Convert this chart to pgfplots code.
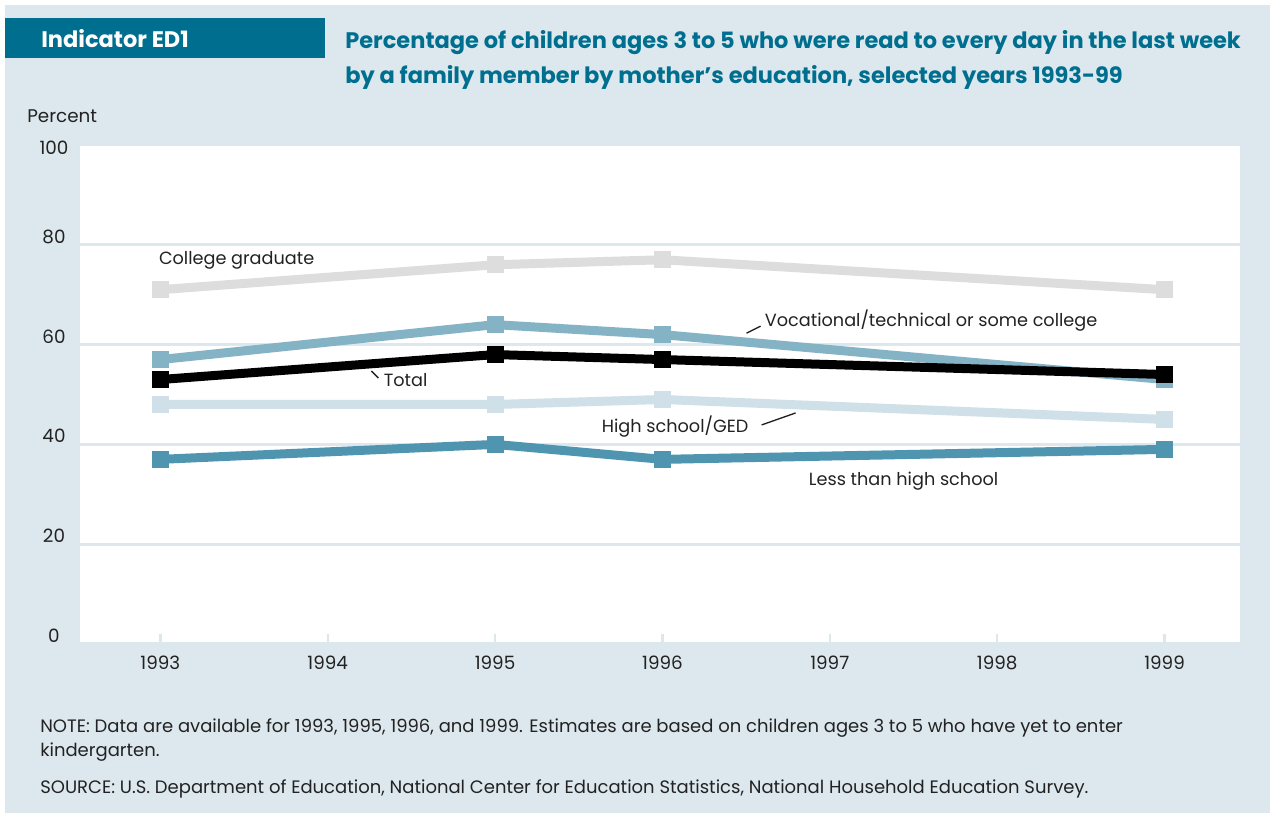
\documentclass[border=0pt]{standalone}
\usepackage{pgfplots}
\pgfplotsset{compat=1.18}
\usepackage{fontspec}
\setmainfont{Poppins}
\definecolor{bgblue}{HTML}{DCE8EE}
\definecolor{teal}{HTML}{006F8F}
\definecolor{colgrad}{HTML}{DDDDDD}
\definecolor{voc}{HTML}{84B3C6}
\definecolor{hsged}{HTML}{CFE0E8}
\definecolor{lths}{HTML}{4F95B0}
\definecolor{txt}{HTML}{222222}
\begin{document}
\begin{tikzpicture}[x=0.6pt,y=0.6pt]
\path[use as bounding box] (0,0) rectangle (1270,813);
\fill[white] (0,0) rectangle (1270,813);
\fill[bgblue] (5,0) rectangle (1270,808);
\fill[teal] (5,755) rectangle (325,795);
\node[anchor=west,text=white,font=\fontsize{13.5}{15}\selectfont\bfseries,inner sep=0pt] at (41,774) {Indicator ED1};
\node[anchor=north west,text=teal,font=\fontsize{13.5}{21}\selectfont\bfseries,inner sep=0pt,align=left] at (345,783)
 {Percentage of children ages 3 to 5 who were read to every day in the last week\\by a family member by mother’s education, selected years 1993-99};
\node[anchor=west,text=txt,font=\fontsize{11}{13}\selectfont,inner sep=0pt] at (27,697) {Percent};
\begin{axis}[
  at={(48pt,101.4pt)}, anchor=south west,
  scale only axis, width=696pt, height=299.4pt,
  xmin=1992.52, xmax=1999.45, ymin=0, ymax=100,
  axis background/.style={fill=white},
  axis line style={draw=none},
  xtick={1993,...,1999}, ytick={0,20,...,100},
  yticklabels={0,20,40,60,80,\raisebox{-6.6pt}[\height][\depth]{100}},
  xticklabel style={/pgf/number format/1000 sep={}, anchor=center, yshift=-11.4pt, text=txt, font=\fontsize{11}{13}\selectfont},
  yticklabel style={anchor=center, xshift=-15.6pt, yshift=5pt, text=txt, font=\fontsize{11}{13}\selectfont},
  /pgf/number format/assume math mode=true,
  ymajorgrids, grid style={draw=bgblue, line width=1.8pt},
  tick align=inside, xtick pos=bottom, ytick pos=left,
  x tick style={draw=bgblue, line width=1.4pt}, major tick length=6pt,
  y tick style={draw=none},
  clip=false,
  every axis plot/.append style={line width=5.4pt, mark=square*, mark size=4.8pt, line join=miter},
]
\addplot[colgrad, mark options={fill=colgrad, draw=colgrad, line width=0pt}] coordinates {(1993,71) (1995,76) (1996,77) (1999,71)};
\addplot[hsged, mark options={fill=hsged, draw=hsged, line width=0pt}] coordinates {(1993,48) (1995,48) (1996,49) (1999,45)};
\addplot[lths, mark options={fill=lths, draw=lths, line width=0pt}] coordinates {(1993,37) (1995,40) (1996,37) (1999,39)};
\addplot[voc, mark options={fill=voc, draw=voc, line width=0pt}] coordinates {(1993,57) (1995,64) (1996,62) (1999,53)};
\addplot[black, mark options={fill=black, draw=black, line width=0pt}] coordinates {(1993,53) (1995,58) (1996,57) (1999,54)};
\begin{scope}[every node/.style={anchor=west, inner sep=0pt, text=txt, font=\fontsize{10.6}{13}\selectfont}]
\node at (axis cs:1992.99,76.95) {College graduate};
\node at (axis cs:1996.61,64.9) {Vocational/technical or some college};
\node at (axis cs:1994.333,52.9) {Total};
\node at (axis cs:1995.636,43.5) {High school/GED};
\node at (axis cs:1996.873,32.7) {Less than high school};
\end{scope}
\draw[txt, line width=0.8pt] (axis cs:1996.502,62.3) -- (axis cs:1996.586,63.7);
\draw[txt, line width=0.8pt] (axis cs:1994.261,54.7) -- (axis cs:1994.303,53.3);
\draw[txt, line width=0.8pt] (axis cs:1996.592,43.9) -- (axis cs:1996.795,46.3);
\end{axis}
\begin{scope}[every node/.style={anchor=west, inner sep=0pt, text=txt, font=\fontsize{10.8}{13}\selectfont}]
\node at (40,85) {NOTE: Data are available for 1993, 1995, 1996, and 1999. Estimates are based on children ages 3 to 5 who have yet to enter};
\node at (40,61) {kindergarten.};
\node at (40,24) {SOURCE: U.S. Department of Education, National Center for Education Statistics, National Household Education Survey.};
\end{scope}
\end{tikzpicture}
\end{document}
